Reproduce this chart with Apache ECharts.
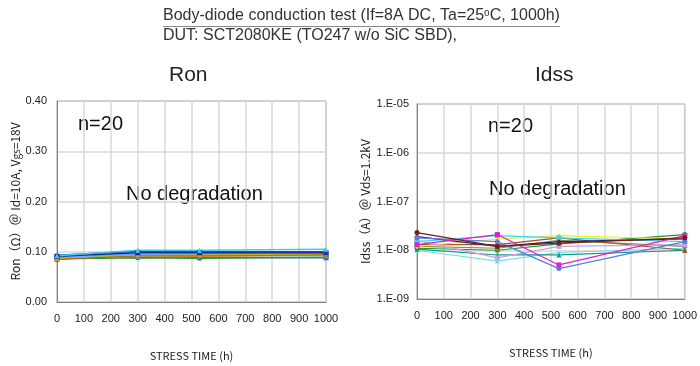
<!DOCTYPE html>
<html><head><meta charset="utf-8">
<script src="https://cdn.jsdelivr.net/npm/echarts@6/dist/echarts.min.js"></script>
<style>html,body{margin:0;padding:0;background:#fff}#c{width:700px;height:366px}</style>
</head><body><div id="c"></div>
<script>
const stressHours = [0, 300, 530, 1000];
const xTicks = [0,100,200,300,400,500,600,700,800,900,1000];
const ronTicks = [0, 0.1, 0.2, 0.3, 0.4];
const idssTicks = [1e-9, 1e-8, 1e-7, 1e-6, 1e-5];

// Ron (ohm), 10 devices shown
const ronCyan   = [0.092, 0.103, 0.103, 0.105];
const ronBlue   = [0.093, 0.101, 0.100, 0.100];
const ronNavy   = [0.091, 0.098, 0.098, 0.098];
const ronLBlue  = [0.089, 0.095, 0.096, 0.099];
const ronYellow = [0.087, 0.094, 0.094, 0.096];
const ronBrown  = [0.085, 0.093, 0.093, 0.095];
const ronOrange = [0.086, 0.092, 0.091, 0.094];
const ronGray   = [0.088, 0.091, 0.092, 0.093];
const ronSteel  = [0.090, 0.090, 0.089, 0.088];
const ronGreen  = [0.086, 0.088, 0.087, 0.089];

// Idss (A)
const idssBrown   = [2.3e-8, 1.2e-8, 1.4e-8, 1.8e-8];
const idssMagenta = [1.3e-8, 2.1e-8, 5.0e-9, 2.0e-8];
const idssBlue    = [1.8e-8, 1.5e-8, 4.2e-9, 1.5e-8];
const idssCyan    = [1.5e-8, 2.0e-8, 1.8e-8, 1.5e-8];
const idssYellow  = [1.2e-8, 1.7e-8, 2.0e-8, 1.7e-8];
const idssBrownTri= [1.3e-8, 1.3e-8, 1.8e-8, 1.0e-8];
const idssGreen   = [1.1e-8, 1.0e-8, 1.35e-8, 2.1e-8];
const idssTeal    = [1.05e-8, 8.0e-9, 8.0e-9, 1.0e-8];
const idssLCyan   = [1.0e-8, 6.0e-9, 9.0e-9, 1.1e-8];
const idssLavender= [1.6e-8, 7.0e-9, 1.2e-8, 1.3e-8];
const idssNavy    = [1.9e-8, 1.2e-8, 1.5e-8, 1.7e-8];
const idssOlive   = [1.2e-8, 1.1e-8, 1.6e-8, 1.2e-8];

const ronSeries = [
  [ronGreen,'#1a9a2a','circle'],[ronSteel,'#3a6fc8','rect'],[ronGray,'#999999','triangle'],
  [ronOrange,'#e07a1a','diamond'],[ronBrown,'#a0522d','rect'],[ronYellow,'#c8b400','triangle'],
  [ronLBlue,'#6fa8ff','circle'],[ronNavy,'#1a237e','rect'],[ronBlue,'#1f3fd0','triangle'],
  [ronCyan,'#35d0e8','triangle']
];
const idssSeries = [
  [idssLCyan,'#70e0e8','triangle'],[idssTeal,'#12958a','triangle'],[idssGreen,'#1a9a2a','circle'],
  [idssOlive,'#8a8a40','circle'],[idssBrownTri,'#a0522d','triangle'],[idssYellow,'#f0f020','diamond'],
  [idssLavender,'#c8a0e8','rect'],[idssCyan,'#38d8f0','rect'],[idssNavy,'#1a237e','diamond'],
  [idssBlue,'#5a7de0','circle'],[idssMagenta,'#e020d0','rect'],[idssBrown,'#7a1a10','circle']
];

const tickFont = {fontFamily:'"Liberation Sans", Arial', fontSize:11, color:'#222'};
const nameFont = '"Noto Sans CJK JP", "Liberation Sans", sans-serif';
function pairs(arr){ return stressHours.map((h,i)=>[h,arr[i]]); }
function mkX(gi){
  return {type:'value', gridIndex:gi, min:xTicks[0], max:xTicks[xTicks.length-1], interval:100,
    name:'STRESS TIME (h)', nameLocation:'middle', nameGap:48,
    nameTextStyle:{fontFamily:nameFont, fontSize:11, color:'#222'},
    axisLine:{show:true,lineStyle:{color:'#808080',width:1}}, axisTick:{show:false},
    axisLabel:Object.assign({margin:11, showMaxLabel:true, showMinLabel:true, hideOverlap:false, formatter:v=>String(v)}, tickFont),
    splitLine:{show:true,lineStyle:{color:'#d8d8d8',width:1.5}}};
}
const series = [];
ronSeries.forEach(([d,c,s])=>series.push({type:'line', xAxisIndex:0, yAxisIndex:0, data:pairs(d),
  symbol:s, symbolSize:5, itemStyle:{color:c}, lineStyle:{color:c,width:1.5}, animation:false}));
idssSeries.forEach(([d,c,s])=>series.push({type:'line', xAxisIndex:1, yAxisIndex:1, data:pairs(d),
  symbol:s, symbolSize:5, itemStyle:{color:c}, lineStyle:{color:c,width:1.2}, animation:false}));

const chart = echarts.init(document.getElementById('c'), null, {renderer:'canvas'});
chart.setOption({
  backgroundColor:'#fff',
  animation:false,
  grid:[
    {left:57, right:374, top:101, bottom:64, show:true, borderColor:'#808080', borderWidth:1},
    {left:417, right:15, top:104, bottom:67, show:true, borderColor:'#808080', borderWidth:1}
  ],
  xAxis:[mkX(0), mkX(1)],
  yAxis:[
    {type:'value', gridIndex:0, min:ronTicks[0], max:ronTicks[ronTicks.length-1], interval:0.1,
     name:'{a|Ron（Ω）＠ Id=10A, V}{s|gs}{a|=18V}', nameLocation:'middle', nameGap:36,
     nameTextStyle:{rich:{a:{fontFamily:nameFont,fontSize:12,color:'#222'},s:{fontFamily:nameFont,fontSize:10,color:'#222',verticalAlign:'bottom'}}},
     axisLine:{show:true,lineStyle:{color:'#808080'}}, axisTick:{show:false},
     axisLabel:Object.assign({margin:10, formatter:v=>v.toFixed(2)}, tickFont),
     splitLine:{show:true,lineStyle:{color:'#d8d8d8',width:1.5}}},
    {type:'log', gridIndex:1, logBase:10, min:idssTicks[0], max:idssTicks[idssTicks.length-1],
     name:'Idss（A）＠ Vds=1.2kV', nameLocation:'middle', nameGap:46,
     nameTextStyle:{fontFamily:nameFont,fontSize:12,color:'#222'},
     axisLine:{show:true,lineStyle:{color:'#808080'}}, axisTick:{show:false},
     axisLabel:Object.assign({margin:8, formatter:v=>{const e=Math.round(Math.log10(v));return '1.E-'+String(-e).padStart(2,'0');}}, tickFont),
     splitLine:{show:true,lineStyle:{color:'#d8d8d8',width:1.5}}}
  ],
  series:series,
  graphic:[
    {type:'text', left:163, top:8, style:{text:'{a|Body-diode conduction test (If=8A DC, Ta=25}{s|o}{a|C, 1000h)}',
      rich:{a:{font:'16px "Liberation Sans", Arial', fill:'#333'}, s:{font:'10px "Liberation Sans", Arial', fill:'#333', verticalAlign:'top', padding:[0,0,6,0]}}}},
    {type:'line', shape:{x1:163,y1:26.5,x2:560,y2:26.5}, style:{stroke:'#888',lineWidth:1}},
    {type:'text', left:163, top:28, style:{text:'DUT: SCT2080KE (TO247 w/o SiC SBD),', font:'16px "Liberation Sans", Arial', fill:'#333'}},
    {type:'text', left:169, top:65, style:{text:'Ron', font:'21px "Liberation Sans", Arial', fill:'#222'}},
    {type:'text', left:535, top:65, style:{text:'Idss', font:'21px "Liberation Sans", Arial', fill:'#222'}},
    {type:'text', left:78, top:114, style:{text:'n=20', font:'20px "Liberation Sans", Arial', fill:'#111'}},
    {type:'text', left:126, top:184, style:{text:'No degradation', font:'20px "Liberation Sans", Arial', fill:'#111'}},
    {type:'text', left:488, top:116, style:{text:'n=20', font:'20px "Liberation Sans", Arial', fill:'#111'}},
    {type:'text', left:489, top:179, style:{text:'No degradation', font:'20px "Liberation Sans", Arial', fill:'#111'}}
  ]
});
</script>
</body></html>
